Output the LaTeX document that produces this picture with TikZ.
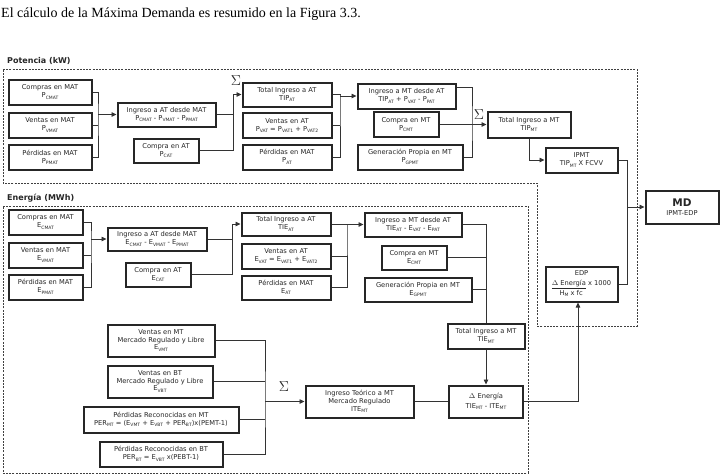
\documentclass[tikz,border=0pt]{standalone}
\usepackage{fontspec}
\setmainfont{DejaVu Sans}
\newfontfamily\titlefont{Liberation Serif}
\usetikzlibrary{arrows.meta}
\newcommand{\sbs}[1]{\raisebox{-0.45ex}{\fontsize{4.5pt}{4.5pt}\selectfont #1}}
\newcommand{\mybox}[6]{\node[box, minimum width=#4pt, minimum height=#5pt] (#1) at (#2,#3) {#6};}
\begin{document}
\begin{tikzpicture}[x=1pt,y=-1pt,
  box/.style={draw=black!85, line width=2pt, align=center, fill=white,
    font=\fontsize{6.7pt}{7.8pt}\selectfont, inner sep=0pt, text=black!85},
  ln/.style={draw=black!80, line width=0.8pt},
  arr/.style={ln, -{Triangle[length=5pt,width=4.5pt]}},
  region/.style={draw=black!75, line width=0.8pt, dash pattern=on 2pt off 1.2pt},
  hdr/.style={font=\bfseries\fontsize{8pt}{9pt}\selectfont, anchor=west, inner sep=0pt, text=black!85},
  sig/.style={font=\titlefont\bfseries\fontsize{15pt}{15pt}\selectfont, inner sep=0pt, text=black!85}
]
\useasboundingbox (0,0) rectangle (720,475);
\fill[white] (0,0) rectangle (720,475);

% title
\node[anchor=base west, font=\titlefont\fontsize{14pt}{16pt}\selectfont, inner sep=0pt] (title) at (1,17)
  {El cálculo de la Máxima Demanda es resumido en la Figura 3.3.};

% regions
\draw[region] (3,69) -- (637,69) -- (637,326) -- (537,326) -- (537,183) -- (3,183) -- cycle;
\draw[region] (3,206) -- (528,206) -- (528,473) -- (3,473) -- cycle;
\node[hdr] (hpot) at (7,61) {Potencia (kW)};
\node[hdr] (hene) at (7,198) {Energía (MWh)};

% ---------------- Potencia
\mybox{pcmat}{50}{92}{83}{25}{Compras en MAT\\P\sbs{CMAT}}
\mybox{pvmat}{50}{125}{83}{25}{Ventas en MAT\\P\sbs{VMAT}}
\mybox{ppmat}{50}{157.5}{83}{25}{Pérdidas en MAT\\P\sbs{PMAT}}
\mybox{pingat}{166.5}{114.5}{98}{24}{Ingreso a AT desde MAT\\P\sbs{CMAT} - P\sbs{VMAT} - P\sbs{PMAT}}
\mybox{pcat}{166}{150.5}{65}{24}{Compra en AT\\P\sbs{CAT}}
\mybox{ptotat}{287}{94.5}{89}{24}{Total Ingreso a AT\\TIP\sbs{AT}}
\mybox{pvat}{287}{125.5}{89}{25}{Ventas en AT\\P\sbs{VAT} = P\sbs{VAT1} + P\sbs{VAT2}}
\mybox{ppat}{287}{157}{89}{25}{Pérdidas en MAT\\P\sbs{AT}}
\mybox{pingmt}{406.5}{96}{98}{25}{Ingreso a MT desde AT\\TIP\sbs{AT} + P\sbs{VAT} - P\sbs{PAT}}
\mybox{pcmt}{406}{124.5}{65}{25}{Compra en MT\\P\sbs{CMT}}
\mybox{pgpmt}{410}{157}{105}{25}{Generación Propia en MT\\P\sbs{GPMT}}
\mybox{ptotmt}{529}{124.5}{83}{26}{Total Ingreso a MT\\TIP\sbs{MT}}
\mybox{ipmt}{581.5}{160}{72}{25}{IPMT\\TIP\sbs{MT} X FCVV}
\mybox{md}{682}{207}{73}{33}{{\bfseries\fontsize{10.5pt}{12pt}\selectfont MD}\\[1pt]IPMT-EDP}
\mybox{edp}{581.5}{284}{72}{35}{EDP\\[2pt]\underline{$\Delta$ Energía} x 1000\\\makebox[58pt][l]{\hspace{7pt}H\sbs{M} x fc}}

\coordinate (pb1) at (98,114.5);
\draw[ln] (pcmat.east) -| (pb1) |- (ppmat.east);
\draw[ln] (pvmat.east) -- (pvmat.east -| pb1);
\draw[arr] (pb1) -- (pingat.west);

\coordinate (pb2) at (233,94.5);
\draw[ln] (pcat.east) -| (pb2);
\draw[ln] (pingat.east) -- (pingat.east -| pb2);
\draw[arr] (pb2) -- (ptotat.west);
\node[sig] (s1) at (236,81) {$\Sigma$};

\coordinate (pb3) at (340,96);
\draw[ln] (ptotat.east) -| (pb3) |- (ppat.east);
\draw[ln] (pvat.east) -- (pvat.east -| pb3);
\draw[arr] (pb3) -- (pingmt.west);

\coordinate (pb4) at (472,124.5);
\draw[ln] ([yshift=-5pt]pingmt.north east) -| (pb4) |- (pgpmt.east);
\draw[arr] (pcmt.east) -- (ptotmt.west);
\node[sig] (s2) at (479,115) {$\Sigma$};

\draw[arr] (ptotmt.south) |- (ipmt.west);
\coordinate (pb5) at (627,207);
\draw[ln] (ipmt.east) -| (pb5);
\draw[ln] (edp.east) -| (pb5);
\draw[arr] (pb5) -- (md.west);

% ---------------- Energia
\mybox{ecmat}{45.5}{222}{74}{25}{Compras en MAT\\E\sbs{CMAT}}
\mybox{evmat}{45.5}{255}{74}{25}{Ventas en MAT\\E\sbs{VMAT}}
\mybox{epmat}{45.5}{287}{74}{25}{Pérdidas en MAT\\E\sbs{PMAT}}
\mybox{eingat}{157}{239}{99}{23}{Ingreso a AT desde MAT\\E\sbs{CMAT} - E\sbs{VMAT} - E\sbs{PMAT}}
\mybox{ecat}{158}{274.5}{65}{24}{Compra en AT\\E\sbs{CAT}}
\mybox{etotat}{286}{224}{89}{23}{Total Ingreso a AT\\TIE\sbs{AT}}
\mybox{evat}{286}{256}{89}{25}{Ventas en AT\\E\sbs{VAT} = E\sbs{VAT1} + E\sbs{VAT2}}
\mybox{epat}{286}{287.5}{89}{24}{Pérdidas en MAT\\E\sbs{AT}}
\mybox{eingmt}{413}{224.5}{97}{24}{Ingreso a MT desde AT\\TIE\sbs{AT} - E\sbs{VAT} - E\sbs{PAT}}
\mybox{ecmt}{414}{257.5}{65}{24}{Compra en MT\\E\sbs{CMT}}
\mybox{egpmt}{418}{289.5}{107}{24}{Generación Propia en MT\\E\sbs{GPMT}}
\mybox{etotmt}{486}{336}{77}{25}{Total Ingreso a MT\\TIE\sbs{MT}}
\mybox{den}{486}{401.5}{74}{32}{$\Delta$ Energía\\[2pt]TIE\sbs{MT} - ITE\sbs{MT}}
\mybox{ite}{359.5}{401.5}{108}{32}{Ingreso Teórico a MT\\Mercado Regulado\\ITE\sbs{MT}}
\mybox{evmt}{161}{340.5}{107}{32}{Ventas en MT\\Mercado Regulado y Libre\\E\sbs{VMT}}
\mybox{evbt}{160}{381.5}{105}{32}{Ventas en BT\\Mercado Regulado y Libre\\E\sbs{VBT}}
\mybox{permt}{161}{419.5}{155}{26}{Pérdidas Reconocidas en MT\\PER\sbs{MT} = (E\sbs{VMT} + E\sbs{VBT} + PER\sbs{BT})x(PEMT-1)}
\mybox{perbt}{161}{454}{123}{25}{Pérdidas Reconocidas en BT\\PER\sbs{BT} = E\sbs{VBT} x(PEBT-1)}

\coordinate (eb1) at (91,239);
\draw[ln] (ecmat.east) -| (eb1) |- (epmat.east);
\draw[ln] (evmat.east) -- (evmat.east -| eb1);
\draw[arr] (eb1) -- (eingat.west);

\coordinate (eb2) at (232,224);
\draw[ln] (ecat.east) -| (eb2);
\draw[ln] (eingat.east) -- (eingat.east -| eb2);
\draw[arr] (eb2) -- (etotat.west);

\coordinate (eb3) at (347,224.5);
\draw[ln] (etotat.east) -| (eb3) |- (epat.east);
\draw[ln] (evat.east) -- (evat.east -| eb3);
\draw[arr] (eb3) -- (eingmt.west);

\draw[ln] (eingmt.east) -| (etotmt.north);
\draw[ln] (ecmt.east) -- (ecmt.east -| etotmt.north);
\draw[ln] (egpmt.east) -- (egpmt.east -| etotmt.north);
\draw[arr] (etotmt.south) -- (den.north);

\draw[ln] (ite.east) -- (den.west);
\draw[arr] (den.east) -| ([xshift=-3.5pt]edp.south);

\coordinate (eb5) at (265,401.5);
\draw[ln] (evmt.east) -| (eb5) |- (perbt.east);
\draw[ln] (evbt.east) -- (evbt.east -| eb5);
\draw[ln] (permt.east) -- (permt.east -| eb5);
\draw[arr] (eb5) -- (ite.west);
\node[sig] (s3) at (284,387) {$\Sigma$};
\end{tikzpicture}
\end{document}
